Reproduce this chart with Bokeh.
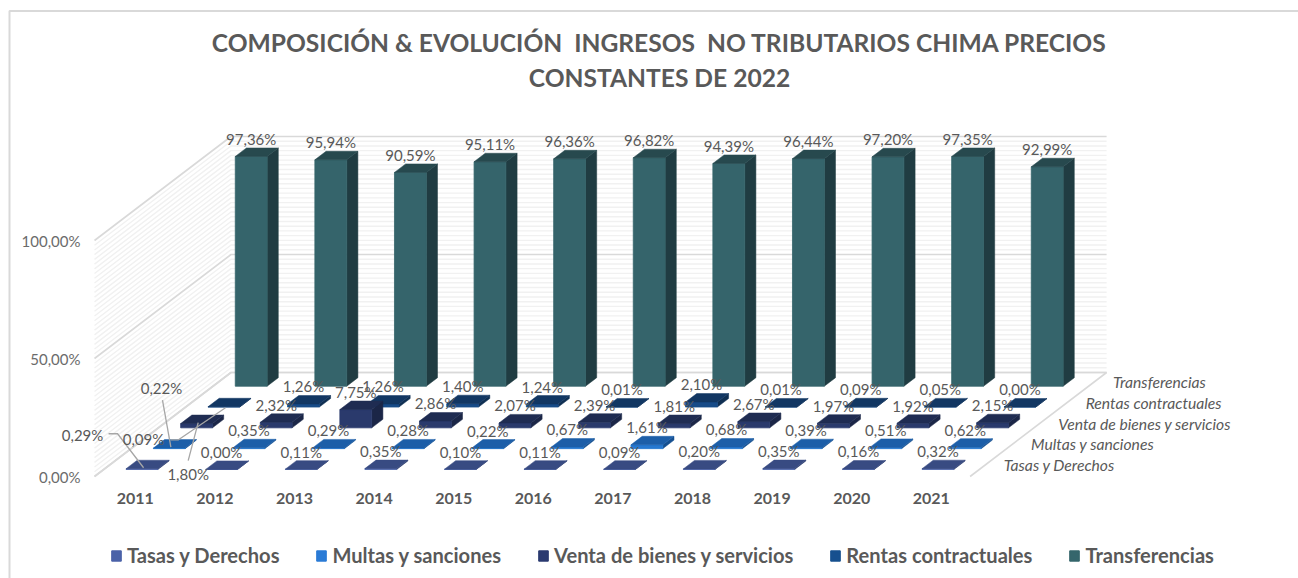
from bokeh.plotting import figure
from bokeh.models import Range1d, Legend, LegendItem
from bokeh.core.properties import value
from bokeh.embed import file_html
from bokeh.resources import INLINE

# ---------- data ----------
years = ["2011","2012","2013","2014","2015","2016","2017","2018","2019","2020","2021"]
series_names = ["Tasas y Derechos","Multas y sanciones","Venta de bienes y servicios","Rentas contractuales","Transferencias"]
tasas = [0.29,0.00,0.11,0.35,0.10,0.11,0.09,0.20,0.35,0.16,0.32]
multas = [0.22,0.35,0.29,0.28,0.22,0.67,1.61,0.68,0.39,0.51,0.62]
venta = [1.80,2.32,7.75,2.86,2.07,2.39,1.81,2.67,1.97,1.92,2.15]
rentas = [0.09,1.26,1.26,1.40,1.24,0.01,2.10,0.01,0.09,0.05,0.00]
transferencias = [97.36,95.94,90.59,95.11,96.36,96.82,94.39,96.44,97.20,97.35,92.99]
value_ticks = [0,50,100]
title_lines = ["COMPOSICIÓN & EVOLUCIÓN \u00a0INGRESOS \u00a0NO TRIBUTARIOS CHIMA PRECIOS","CONSTANTES DE 2022"]

# ---------- styles ----------
GRAY = "#595959"
FRONT = ["#4a62a8","#2678d0","#2a3a6c","#174b88","#35646b"]
TOP   = ["#384b82","#1c5ea8","#1f2c52","#123763","#27494e"]
SIDE  = ["#2f3f6e","#165090","#1b2647","#0f2f52","#203c42"]
LEGEND_COL = ["#4a62a8","#2a7bd6","#2b3a70","#17508f","#35666c"]
FONT = "Lato"
LABEL_SIZE = "15px"

# ---------- oblique projection onto page pixels ----------
X0, Y0 = 94.0, 476.0      # front-left floor corner
DX = 79.6                 # width of one category
SX, SY = 27.3, 20.8       # depth vector of one series
VY = 2.36                 # pixels per percent
C0, C1 = 0.28, 0.68       # bar extent inside a category
D0, D1 = 0.34, 0.75       # bar extent inside a series row
NC, NS = len(years), len(series_names)

def proj(c, d, v):
    return X0 + c * DX + d * SX, Y0 - d * SY - v * VY

p = figure(width=1298, height=578, x_range=Range1d(0, 1298), y_range=Range1d(578, 0),
           output_backend="svg", toolbar_location=None, min_border=0,
           background_fill_color="white", border_fill_color="white", outline_line_color=None)
p.axis.visible = False
p.grid.visible = False

# chart frame
p.line([9, 9, 1298], [578, 10.5, 10.5], line_color="#d9d9d9", line_width=2)

# walls: minor gridlines every 2 %, major every 50 %
def wall(vals, color, width):
    xs_b, ys_b = [], []
    for v in vals:
        a, b, c = proj(0, 0, v), proj(0, NS, v), proj(NC, NS, v)
        xs_b.append([a[0], b[0], c[0]])
        ys_b.append([a[1], b[1], c[1]])
    p.multi_line(xs_b, ys_b, line_color=color, line_width=width)

wall([v for v in range(0, 101, 2) if v % 50], "#f1f1f1", 1.4)
wall(value_ticks, "#d9d9d9", 1.6)
a, b, c, d = proj(0, 0, 0), proj(0, NS, 0), proj(NC, NS, 0), proj(NC, 0, 0)
p.line([a[0], b[0], c[0], d[0]], [a[1], b[1], c[1], d[1]], line_color="#d9d9d9", line_width=1.6)

# bars, painted back to front
all_series = [tasas, multas, venta, rentas, transferencias]
for s in range(NS - 1, -1, -1):
    vals = all_series[s]
    fx, fy, tx, ty, sx, sy = [], [], [], [], [], []
    for i, v in enumerate(vals):
        d0, d1 = s + D0, s + D1
        c0, c1 = i + C0, i + C1
        q = [proj(c0, d0, 0), proj(c1, d0, 0), proj(c1, d0, v), proj(c0, d0, v)]
        fx.append([k[0] for k in q]); fy.append([k[1] for k in q])
        q = [proj(c0, d0, v), proj(c1, d0, v), proj(c1, d1, v), proj(c0, d1, v)]
        tx.append([k[0] for k in q]); ty.append([k[1] for k in q])
        q = [proj(c1, d0, 0), proj(c1, d1, 0), proj(c1, d1, v), proj(c1, d0, v)]
        sx.append([k[0] for k in q]); sy.append([k[1] for k in q])
    p.patches(sx, sy, fill_color=SIDE[s], line_color=SIDE[s], line_width=0.5)
    p.patches(fx, fy, fill_color=FRONT[s], line_color=FRONT[s], line_width=0.8)
    p.patches(tx, ty, fill_color=TOP[s], line_color=TOP[s], line_width=0.5)

# value labels above each bar; a few in 2011 are moved out, with leaders
LABEL_OFFSET = (0, -17.6)
MOVED = {
    (0, 0): ((-61, -33.6), [(-35, -35), (-26, -35), (0, -1)]),
    (1, 0): ((-9.4, -60.6), [(-8.4, -48), (0, -1)]),
    (2, 0): ((-10, 50.4), [(-10, 37), (0, -1)]),
    (3, 0): ((-82, 32.4), [(-55, 33), (-47, 33), (0, 1)]),
}
lx, ly, lt = [], [], []
leadx, leady = [], []
for s in range(NS):
    for i, v in enumerate(all_series[s]):
        ax, ay = proj(i + (C0 + C1) / 2, s + D0, v)
        off = LABEL_OFFSET
        if (s, i) in MOVED:
            ax, ay = proj(i + 0.5, s + D0, v)
            off, poly = MOVED[(s, i)]
            leadx.append([ax + o[0] for o in poly])
            leady.append([ay + o[1] for o in poly])
        lx.append(ax + off[0]); ly.append(ay + off[1])
        lt.append(f"{v:.2f}%".replace(".", ","))
p.multi_line(leadx, leady, line_color="#a6a6a6", line_width=1.3)
p.text(lx, ly, text=lt, text_font=value(FONT), text_font_size=LABEL_SIZE, text_color=GRAY,
       text_align="center", text_baseline="middle")

# value axis
tx_, ty_, tt_ = [], [], []
for v in value_ticks:
    x_, y_ = proj(0, 0, v)
    tx_.append(x_ - 14); ty_.append(y_); tt_.append(f"{v:.2f}%".replace(".", ","))
p.text(tx_, ty_, text=tt_, text_font=value(FONT), text_font_size=LABEL_SIZE, text_color="#6b6b6b",
       text_align="right", text_baseline="middle")

# category axis
cpts = [proj(i + 0.5, 0, 0) for i in range(NC)]
p.text([k[0] + 1 for k in cpts], [k[1] + 22 for k in cpts], text=years, text_font=value(FONT),
       text_font_size="16px", text_font_style="bold", text_color=GRAY,
       text_align="center", text_baseline="middle")

# depth axis
dpts = [proj(NC, s + 0.5, 0) for s in range(NS)]
p.text([k[0] + 20 for k in dpts], [k[1] - 1 for k in dpts], text=series_names, text_font=value(FONT),
       text_font_size="15.7px", text_font_style="italic", text_color=GRAY,
       text_align="left", text_baseline="middle")

# title
p.text([659, 659], [42, 77], text=title_lines, text_font=value(FONT), text_font_size="24.6px",
       text_font_style="bold", text_color=GRAY, text_align="center", text_baseline="middle")

# legend
items = []
for name, col in zip(series_names, LEGEND_COL):
    r = p.patches([[]], [[]], fill_color=col, line_color=col)
    items.append(LegendItem(label=name, renderers=[r]))
leg = Legend(items=items, orientation="horizontal", location=(110, 11), spacing=36, padding=0, margin=0,
             glyph_width=12, glyph_height=13, label_standoff=5, label_text_font=FONT,
             label_text_font_size="20.1px", label_text_font_style="bold", label_text_color=GRAY,
             background_fill_alpha=0, border_line_color=None, label_height=13)
p.add_layout(leg)

open("out.html", "w").write(file_html(p, INLINE))
